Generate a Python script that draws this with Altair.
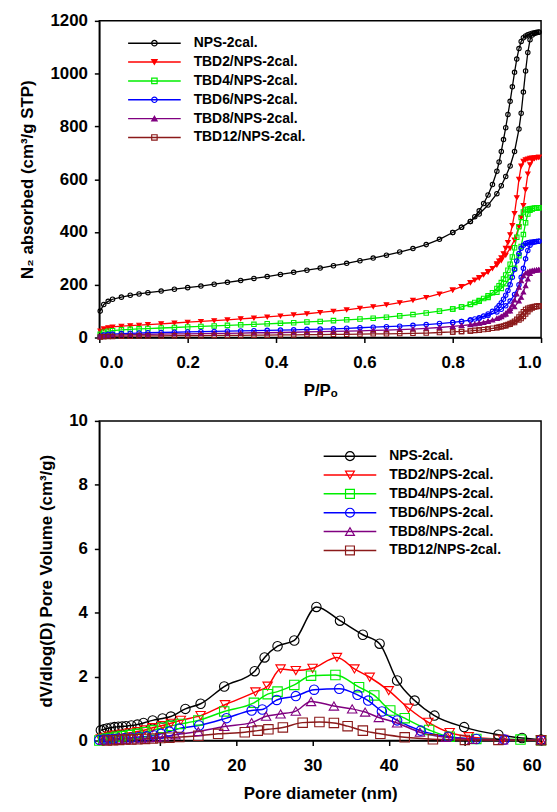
import altair as alt
import pandas as pd

NAMES = ["NPS-2cal.", "TBD2/NPS-2cal.", "TBD4/NPS-2cal.", "TBD6/NPS-2cal.",
         "TBD8/NPS-2cal.", "TBD12/NPS-2cal."]
CODES = ["s0", "s1", "s2", "s3", "s4", "s5"]
COLORS = ["#000000", "#ff0000", "#00ee00", "#0000ff", "#800080", "#8b1a1a"]
SHAPES = ["circle", "triangle-down", "square", "circle", "triangle-up", "square"]
TOP_FILLS = ["transparent", "#ff0000", "transparent", "transparent", "#800080", "transparent"]
BOTTOM_FILLS = ["transparent"] * 6

# ---------------- N2 isotherms (top) ----------------
P_ADS = [0.002, 0.01, 0.02, 0.03, 0.05, 0.07, 0.09, 0.11, 0.14, 0.17, 0.2, 0.23, 0.26,
         0.29, 0.32, 0.35, 0.38, 0.41, 0.44, 0.47, 0.5, 0.53, 0.56, 0.59, 0.62, 0.65,
         0.68, 0.71, 0.74, 0.77, 0.8, 0.82, 0.84, 0.86, 0.88, 0.9, 0.91, 0.92, 0.93,
         0.94, 0.95, 0.955, 0.96, 0.965, 0.97, 0.975, 0.98, 0.985, 0.99, 0.995]
P_DES = [0.995, 0.99, 0.985, 0.98, 0.975, 0.97, 0.965, 0.96, 0.955, 0.95, 0.945, 0.94,
         0.935, 0.93, 0.925, 0.92, 0.915, 0.91, 0.905, 0.9, 0.89, 0.88, 0.87, 0.86,
         0.85, 0.84, 0.82, 0.8]

ADS_NPS = [100, 125, 137, 145, 153, 160, 165, 170, 176, 183, 189, 195, 202, 209, 216, 224,
           231, 239, 247, 255, 263, 272, 281, 291, 301, 312, 324, 337, 352, 372, 398, 418,
           440, 468, 502, 545, 575, 610, 650, 705, 790, 850, 930, 1010, 1080, 1128, 1146,
           1152, 1155, 1157]
DES_NPS = [1158, 1157, 1155, 1153, 1150, 1147, 1143, 1136, 1122, 1095, 1055, 1005, 950,
           895, 845, 795, 750, 705, 665, 630, 580, 540, 508, 480, 458, 440, 418, 398]
ADS_TBD2 = [25, 33, 37, 40, 43, 45, 47, 49, 52, 55, 58, 61, 64, 67, 71, 74, 78, 82, 86, 90,
            95, 100, 105, 111, 117, 124, 132, 141, 152, 165, 180, 193, 208, 226, 248, 275,
            292, 312, 338, 370, 420, 455, 500, 560, 620, 655, 672, 678, 681, 683]
DES_TBD2 = [683, 682, 681, 680, 679, 677, 674, 668, 650, 600, 530, 470, 425, 390, 360, 338,
            318, 302, 290, 280, 262, 250, 238, 228, 218, 209, 193, 180]
ADS_TBD4 = [12, 20, 24, 26, 29, 31, 33, 34, 36, 38, 40, 42, 44, 46, 48, 50, 52, 54, 56, 59,
            61, 64, 67, 70, 73, 77, 82, 87, 93, 100, 108, 116, 125, 137, 152, 172, 186, 204,
            228, 262, 310, 345, 390, 435, 468, 482, 487, 490, 491, 492]
DES_TBD4 = [492, 491, 490, 489, 488, 486, 483, 476, 455, 420, 380, 340, 305, 278, 255, 237,
            222, 208, 196, 186, 170, 158, 148, 140, 133, 126, 116, 108]
ADS_TBD6 = [4, 9, 12, 13, 15, 16, 17, 18, 19, 20, 21, 22, 23, 24, 25, 26, 27, 28, 29, 31, 32,
            33, 35, 37, 39, 41, 43, 46, 49, 53, 57, 61, 66, 73, 83, 97, 107, 120, 138, 163,
            200, 228, 262, 298, 330, 350, 359, 362, 364, 365]
DES_TBD6 = [365, 364, 363, 362, 361, 359, 356, 350, 338, 318, 290, 258, 228, 200, 178, 160,
            145, 132, 121, 112, 99, 89, 81, 75, 70, 66, 61, 57]
ADS_TBD8 = [3, 6, 8, 9, 10, 11, 12, 12, 13, 14, 14, 15, 16, 16, 17, 18, 18, 19, 20, 21, 22,
            23, 24, 25, 27, 28, 30, 32, 35, 38, 42, 45, 49, 55, 62, 72, 79, 88, 100, 116, 138,
            152, 172, 196, 222, 242, 251, 254, 256, 257]
DES_TBD8 = [257, 256, 255, 254, 252, 249, 244, 234, 215, 190, 165, 142, 124, 110, 100, 92,
            85, 80, 75, 72, 66, 61, 57, 54, 51, 48, 45, 42]
ADS_TBD12 = [2, 3, 4, 4, 5, 5, 6, 6, 6, 7, 7, 7, 8, 8, 8, 9, 9, 10, 10, 11, 11, 12, 12, 13,
             14, 14, 15, 16, 17, 19, 21, 23, 25, 28, 32, 37, 41, 45, 50, 57, 66, 72, 80, 89,
             98, 106, 112, 116, 118, 119]
DES_TBD12 = [119, 118, 117, 116, 114, 111, 106, 98, 88, 78, 69, 62, 57, 53, 49, 46, 44, 42,
             40, 38, 35, 32, 30, 28, 27, 25, 23, 21]

ADS = [ADS_NPS, ADS_TBD2, ADS_TBD4, ADS_TBD6, ADS_TBD8, ADS_TBD12]
DES = [DES_NPS, DES_TBD2, DES_TBD4, DES_TBD6, DES_TBD8, DES_TBD12]

# ---------------- pore size distribution (bottom) ----------------
D_NPS = [2.2, 2.6, 3.0, 3.5, 4.0, 4.5, 5.0, 5.5, 6.2, 7.0, 7.8, 9.0, 10.3, 11.4, 13.3, 15.3,
         18.4, 22.4, 23.7, 25.4, 27.6, 30.5, 33.6, 36.6, 38.8, 41.1, 43.4, 46.0, 49.9, 54.4,
         57.5, 60.0]
PV_NPS = [0.32, 0.35, 0.38, 0.40, 0.42, 0.43, 0.44, 0.45, 0.47, 0.50, 0.55, 0.63, 0.69, 0.75,
          0.99, 1.15, 1.69, 2.17, 2.60, 2.95, 3.13, 4.18, 3.75, 3.31, 3.03, 1.88, 1.25, 0.78,
          0.42, 0.18, 0.08, 0.03]
D_TBD2 = [2.2, 2.7, 3.3, 4.0, 5.0, 6.0, 7.0, 8.0, 9.0, 10.3, 11.4, 12.7, 15.3, 18.5, 22.5,
          24.1, 25.8, 27.8, 30.0, 33.2, 35.5, 37.5, 40.0, 42.6, 45.2, 48.0, 50.5, 55.0, 60.0]
PV_TBD2 = [0.05, 0.10, 0.14, 0.17, 0.20, 0.24, 0.28, 0.33, 0.40, 0.47, 0.54, 0.63, 0.78, 1.12,
           1.52, 1.70, 2.24, 2.19, 2.26, 2.60, 2.24, 1.98, 1.56, 1.01, 0.57, 0.25, 0.12, 0.04,
           0.01]
D_TBD4 = [2.0, 2.5, 3.0, 3.6, 4.3, 5.0, 6.0, 7.0, 8.0, 9.0, 10.3, 11.4, 12.7, 15.0, 18.4,
          22.3, 24.1, 25.4, 27.6, 29.8, 33.0, 36.1, 38.1, 40.2, 42.1, 45.3, 48.0, 51.5, 57.3,
          60.0]
PV_TBD4 = [0.0, 0.03, 0.06, 0.09, 0.12, 0.14, 0.17, 0.21, 0.26, 0.32, 0.40, 0.46, 0.52, 0.63,
           0.91, 1.18, 1.45, 1.53, 1.74, 2.03, 2.05, 1.67, 1.41, 0.94, 0.70, 0.33, 0.12, 0.05,
           0.03, 0.01]
D_TBD6 = [2.0, 2.6, 3.2, 3.8, 4.5, 5.3, 6.2, 7.2, 8.2, 9.2, 10.1, 11.2, 12.5, 15.1, 18.7,
          22.0, 23.4, 25.3, 27.8, 30.2, 33.5, 35.9, 37.3, 39.1, 41.1, 44.2, 47.8, 51.5, 55.2,
          60.0]
PV_TBD6 = [0.02, 0.03, 0.04, 0.05, 0.06, 0.07, 0.09, 0.11, 0.13, 0.16, 0.21, 0.28, 0.38, 0.47,
           0.70, 0.94, 0.97, 1.27, 1.39, 1.59, 1.62, 1.43, 1.25, 0.91, 0.63, 0.31, 0.12, 0.05,
           0.03, 0.01]
D_TBD8 = [2.5, 3.5, 4.5, 5.5, 6.5, 7.5, 8.5, 9.5, 10.5, 12.0, 15.0, 18.4, 22.0, 23.9, 25.8,
          27.8, 29.8, 32.8, 35.2, 36.9, 38.7, 41.1, 44.1, 47.5, 51.0, 55.0, 60.0]
PV_TBD8 = [0.01, 0.02, 0.03, 0.04, 0.05, 0.06, 0.08, 0.10, 0.12, 0.18, 0.28, 0.44, 0.56, 0.76,
           0.83, 0.92, 1.22, 1.08, 0.99, 0.89, 0.72, 0.55, 0.26, 0.10, 0.04, 0.02, 0.01]
D_TBD12 = [3.0, 3.8, 4.6, 5.4, 6.2, 7.0, 8.0, 9.0, 10.0, 11.2, 12.5, 15.0, 17.6, 21.1, 22.8,
           24.2, 26.1, 28.7, 30.9, 32.8, 34.6, 36.6, 38.9, 42.1, 45.8, 50.0, 54.4, 60.0]
PV_TBD12 = [0.0, 0.01, 0.02, 0.03, 0.03, 0.04, 0.05, 0.06, 0.08, 0.09, 0.11, 0.15, 0.21, 0.26,
            0.31, 0.35, 0.41, 0.56, 0.58, 0.55, 0.45, 0.31, 0.21, 0.10, 0.04, 0.02, 0.02, 0.01]

DS = [D_NPS, D_TBD2, D_TBD4, D_TBD6, D_TBD8, D_TBD12]
PVS = [PV_NPS, PV_TBD2, PV_TBD4, PV_TBD6, PV_TBD8, PV_TBD12]

top_rows = []
for i, name in enumerate(NAMES):
    k = 0
    for p, v in zip(P_ADS, ADS[i]):
        top_rows.append({"series": name, "code": CODES[i], "x": p, "y": v, "idx": k})
        k += 1
    for p, v in zip(P_DES, DES[i]):
        top_rows.append({"series": name, "code": CODES[i], "x": p, "y": v, "idx": k})
        k += 1
top_df = pd.DataFrame(top_rows)

bot_rows = []
for i, name in enumerate(NAMES):
    for k, (d, v) in enumerate(zip(DS[i], PVS[i])):
        bot_rows.append({"series": name, "code": CODES[i], "x": d, "y": v, "idx": k})
bot_df = pd.DataFrame(bot_rows)

FONT = "Liberation Sans"
STROKE_LEN2 = 2809  # symbol area of the legend line


def panel(df, xdom, ydom, xvals, yvals, xfmt, yfmt, xtitle, ytitle, w, h,
          pt_size, leg_pt_size, leg_x, leg_y, fills, interp, lw):
    x = alt.X("x:Q", scale=alt.Scale(domain=xdom, nice=False, zero=False),
              axis=alt.Axis(values=xvals, format=xfmt, title=xtitle, labelPadding=12,
                            titlePadding=12))
    y = alt.Y("y:Q", scale=alt.Scale(domain=ydom, nice=False, zero=False),
              axis=alt.Axis(values=yvals, format=yfmt, title=ytitle, labelPadding=7,
                            titlePadding=13))
    line_leg = alt.Legend(orient="none", legendX=leg_x, legendY=leg_y, title=None,
                          symbolType="stroke", symbolSize=STROKE_LEN2, symbolStrokeWidth=1.5,
                          labelFont=FONT, labelFontSize=14, labelFontWeight="bold",
                          labelColor="black", labelOffset=12, clipHeight=19,
                          rowPadding=0, padding=0)
    pt_leg = alt.Legend(orient="none", legendX=leg_x + 20.5, legendY=leg_y, title=None,
                        symbolSize=leg_pt_size, symbolStrokeWidth=1.2, labelOpacity=0,
                        labelFontSize=14, clipHeight=19, rowPadding=0, padding=0)
    line = alt.Chart(df).mark_line(strokeWidth=lw, interpolate=interp).encode(
        x=x, y=y,
        color=alt.Color("series:N", scale=alt.Scale(domain=NAMES, range=COLORS),
                        legend=line_leg),
        order=alt.Order("idx:Q"),
    )
    pts = alt.Chart(df).mark_point(filled=True, size=pt_size, strokeWidth=1.1,
                                   opacity=1).encode(
        x=x, y=y,
        stroke=alt.Stroke("code:N", scale=alt.Scale(domain=CODES, range=COLORS),
                          legend=pt_leg),
        fill=alt.Fill("code:N", scale=alt.Scale(domain=CODES, range=fills), legend=pt_leg),
        shape=alt.Shape("code:N", scale=alt.Scale(domain=CODES, range=SHAPES),
                        legend=pt_leg),
    )
    return alt.layer(line, pts).properties(width=w, height=h)


top = panel(top_df, [0, 1], [0, 1200], [0, 0.2, 0.4, 0.6, 0.8, 1.0],
            list(range(0, 1201, 200)), ".1f", "d", "P/P\u2092",
            "N\u2082 absorbed (cm\u00b3/g STP)", 445, 319, 20, 30, 28, 13,
            TOP_FILLS, "linear", 1.3)
bottom = panel(bot_df, [2, 60], [0, 10], [10, 20, 30, 40, 50, 60], [0, 2, 4, 6, 8, 10],
               "d", "d", "Pore diameter (nm)", "dV/dlog(D) Pore Volume (cm\u00b3/g)",
               445, 322, 90, 80, 225, 26, BOTTOM_FILLS, "monotone", 1.5)

chart = alt.vconcat(top, bottom, spacing=12).resolve_scale(
    color="independent", stroke="independent", fill="independent", shape="independent"
).properties(
    padding={"left": 10, "top": 0, "right": 0, "bottom": 0}
).configure_view(
    stroke="black", strokeWidth=1.5
).configure_axis(
    grid=False, domainColor="black", domainWidth=1.5, tickColor="black", tickWidth=1.5,
    tickSize=5, labelFont=FONT, labelFontSize=17, labelFontWeight="bold",
    labelColor="black", titleFont=FONT, titleFontSize=17, titleFontWeight="bold",
    titleColor="black"
)

chart.save("out.html", embed_options={"renderer": "svg", "actions": False})
